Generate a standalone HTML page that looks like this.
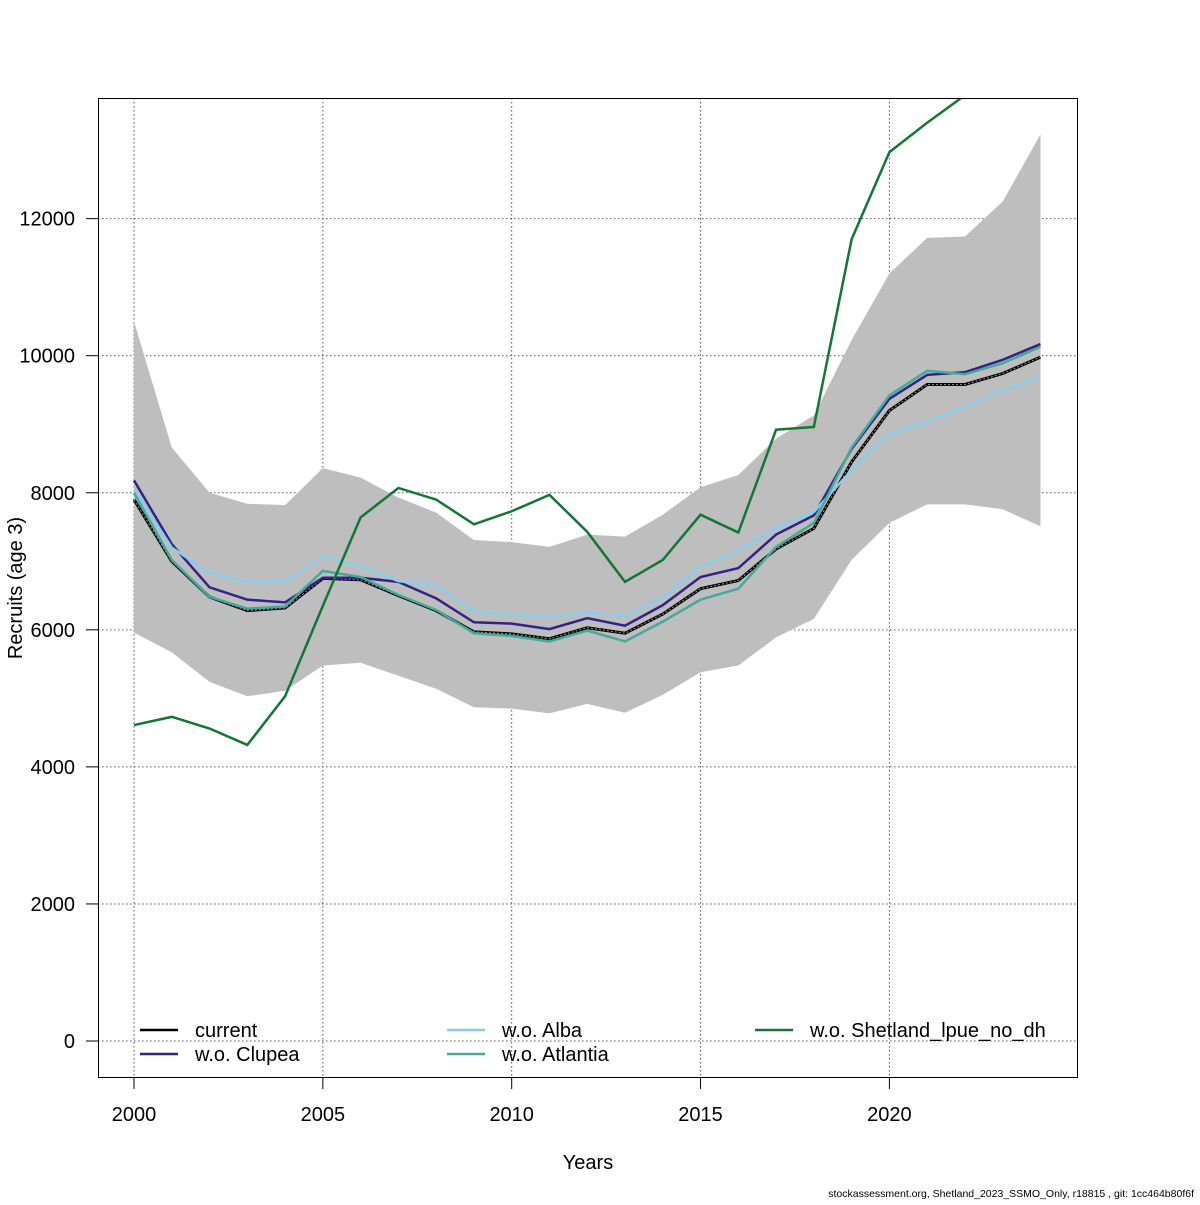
<!DOCTYPE html>
<html><head><meta charset="utf-8"><style>
body{margin:0;background:#fff}
svg text{font-family:"Liberation Sans",sans-serif}
</style></head><body>
<svg id="chart" width="1200" height="1200" xmlns="http://www.w3.org/2000/svg">
<rect width="1200" height="1200" fill="#fff"/>
<g id="grid"></g>
<g id="band"></g>
<g id="lines"></g>
<rect x="98.5" y="98.5" width="979" height="979" fill="none" stroke="#000"/>
<g id="xticks"></g>
<g id="yticks"></g>
<text x="588" y="1169" font-size="20" text-anchor="middle">Years</text>
<text x="22" y="588" font-size="20" text-anchor="middle" transform="rotate(-90 22 588)">Recruits (age 3)</text>
<text x="1194" y="1197" font-size="10.5" text-anchor="end">stockassessment.org, Shetland_2023_SSMO_Only, r18815 , git: 1cc464b80f6f</text>
<g id="legend"></g>
</svg>
<script>
const years=[2000,2001,2002,2003,2004,2005,2006,2007,2008,2009,2010,2011,2012,2013,2014,2015,2016,2017,2018,2019,2020,2021,2022,2023,2024];
const upper=[10500,8660,8000,7840,7820,8360,8220,7930,7710,7310,7280,7210,7390,7360,7680,8080,8260,8790,9130,10230,11200,11720,11740,12250,13230];
const lower=[5960,5670,5240,5030,5110,5480,5520,5330,5140,4870,4850,4780,4920,4790,5050,5380,5480,5890,6160,7020,7560,7830,7830,7760,7510];
const current=[7900,7000,6480,6280,6320,6750,6730,6500,6280,5970,5940,5870,6030,5950,6230,6600,6720,7180,7480,8450,9200,9580,9580,9740,9980];
const clupea=[8180,7250,6620,6440,6400,6760,6760,6700,6460,6110,6090,6010,6170,6060,6360,6770,6900,7390,7670,8640,9370,9720,9760,9940,10170];
const alba=[8050,7200,6830,6700,6700,7080,6930,6710,6650,6270,6220,6190,6250,6200,6480,6920,7150,7480,7720,8330,8860,9040,9250,9490,9700];
const atlantia=[8000,7020,6480,6310,6340,6860,6770,6510,6290,5950,5910,5830,5990,5830,6120,6440,6600,7210,7560,8660,9420,9780,9730,9890,10130];
const shetland=[4610,4730,4560,4320,5030,6350,7640,8070,7900,7540,7730,7970,7430,6700,7020,7680,7420,8920,8960,11700,12970,13400,13800,14200,14600];
const xTicks=[2000,2005,2010,2015,2020];
const yTicks=[0,2000,4000,6000,8000,10000,12000];
const NS="http://www.w3.org/2000/svg";
const X=v=>134+(v-2000)*37.77;
const Y=v=>1041-v*0.06853;
function mk(tag,parent){const e=document.createElementNS(NS,tag);document.getElementById(parent).appendChild(e);return e;}
xTicks.forEach(t=>{
 const g=mk('line','grid');g.setAttribute('x1',X(t));g.setAttribute('x2',X(t));g.setAttribute('y1',98);g.setAttribute('y2',1077);g.setAttribute('stroke','#555');g.setAttribute('stroke-dasharray','1.5,2.5');
 
 
 const tk=mk('line','xticks');tk.setAttribute('x1',X(t));tk.setAttribute('x2',X(t));tk.setAttribute('y1',1077);tk.setAttribute('y2',1089);tk.setAttribute('stroke','#000');
 
 
 const tx=mk('text','xticks');tx.setAttribute('x',X(t));tx.setAttribute('y',1121);tx.setAttribute('font-size','20');tx.setAttribute('text-anchor','middle');tx.textContent=t;
 
 
});
yTicks.forEach(t=>{
 const g=mk('line','grid');g.setAttribute('y1',Y(t));g.setAttribute('y2',Y(t));g.setAttribute('x1',98);g.setAttribute('x2',1077);g.setAttribute('stroke','#555');g.setAttribute('stroke-dasharray','1.5,2.5');
 
 
 const tk=mk('line','yticks');tk.setAttribute('y1',Y(t));tk.setAttribute('y2',Y(t));tk.setAttribute('x1',86);tk.setAttribute('x2',98);tk.setAttribute('stroke','#000');
 
 
 const tx=mk('text','yticks');tx.setAttribute('x',75);tx.setAttribute('y',Y(t)+7);tx.setAttribute('font-size','20');tx.setAttribute('text-anchor','end');tx.textContent=t;
 
 
});
const bandPts=years.map((y,i)=>X(y)+','+Y(upper[i])).concat(years.slice().reverse().map((y,i)=>X(y)+','+Y(lower[years.length-1-i])));
const bp=mk('polygon','band');bp.setAttribute('points',bandPts.join(' '));bp.setAttribute('fill','#bebebe');


const clip=mk('clipPath','lines');clip.setAttribute('id','pc');
const cr=document.createElementNS(NS,'rect');cr.setAttribute('x',98);cr.setAttribute('y',98);cr.setAttribute('width',979);cr.setAttribute('height',979);clip.appendChild(cr);
function series(arr,color,name,dash,w){
 const p=mk('polyline','lines');p.setAttribute('points',years.map((y,i)=>X(y)+','+Y(arr[i])).join(' '));p.setAttribute('fill','none');p.setAttribute('stroke',color);p.setAttribute('stroke-width',w||2.5);p.setAttribute('clip-path','url(#pc)');
 if(dash)p.setAttribute('stroke-dasharray',dash);
 
 
}
series(current,'#000','current-line',null,3);
series(current,'#888','current-line-dots','2,2',1.2);
series(clupea,'#332288','clupea-line');
series(alba,'#88ccee','alba-line');
series(atlantia,'#44aa99','atlantia-line');
series(shetland,'#117733','shetland-line');
const legendItems=[['current','#000',140,1030],['w.o. Clupea','#332288',140,1054],['w.o. Alba','#88ccee',447,1030],['w.o. Atlantia','#44aa99',447,1054],['w.o. Shetland_lpue_no_dh','#117733',755,1030]];
legendItems.forEach(it=>{
 const l=mk('line','legend');l.setAttribute('x1',it[2]);l.setAttribute('x2',it[2]+38);l.setAttribute('y1',it[3]);l.setAttribute('y2',it[3]);l.setAttribute('stroke',it[1]);l.setAttribute('stroke-width','2.5');
 
 
 const t=mk('text','legend');t.setAttribute('x',it[2]+55);t.setAttribute('y',it[3]+7);t.setAttribute('font-size','20');t.textContent=it[0];
 
 
});
</script>
</body></html>
